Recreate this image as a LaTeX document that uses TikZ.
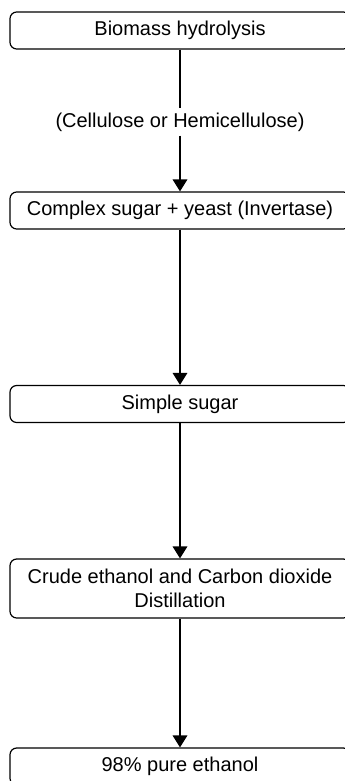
\documentclass[tikz,border=0pt]{standalone}
\usepackage{fontspec}
\setmainfont{Liberation Sans}
\usetikzlibrary{arrows.meta}

\begin{document}
\begin{tikzpicture}[x=0.75pt, y=-0.75pt,
  stage/.style={draw, line width=0.9pt, rounded corners=5pt, minimum width=255pt,
    minimum height=27.75pt, align=center, inner sep=2pt,
    font=\fontsize{15}{18}\selectfont},
  flow/.style={line width=0.9pt, -{Triangle[width=11pt, length=9pt]}}]
\useasboundingbox (0, 0) rectangle (345, 781);
\node (hydro) [stage] at (180, 30.5) {Biomass hydrolysis};
\node (cell) [fill=white, inner sep=3pt, font=\fontsize{15}{18}\selectfont] at (180, 122) {(Cellulose or Hemicellulose)};
\node (complex) [stage] at (180, 210.5) {Complex sugar + yeast (Invertase)};
\node (simple) [stage] at (180, 404) {Simple sugar};
\node (crude) [stage, minimum height=44.25pt] at (180, 588.5) {Crude ethanol and Carbon dioxide\\Distillation};
\node (pure) [stage] at (180, 766.5) {98\% pure ethanol};
\draw [line width=0.9pt] (hydro) -- (cell);
\draw [flow] (cell) -- (complex);
\draw [flow] (complex) -- (simple);
\draw [flow] (simple) -- (crude);
%\draw [flow] (crude.east) -- (pure.east);
\draw [flow] (crude) -- (pure);
\end{tikzpicture}
\end{document}
